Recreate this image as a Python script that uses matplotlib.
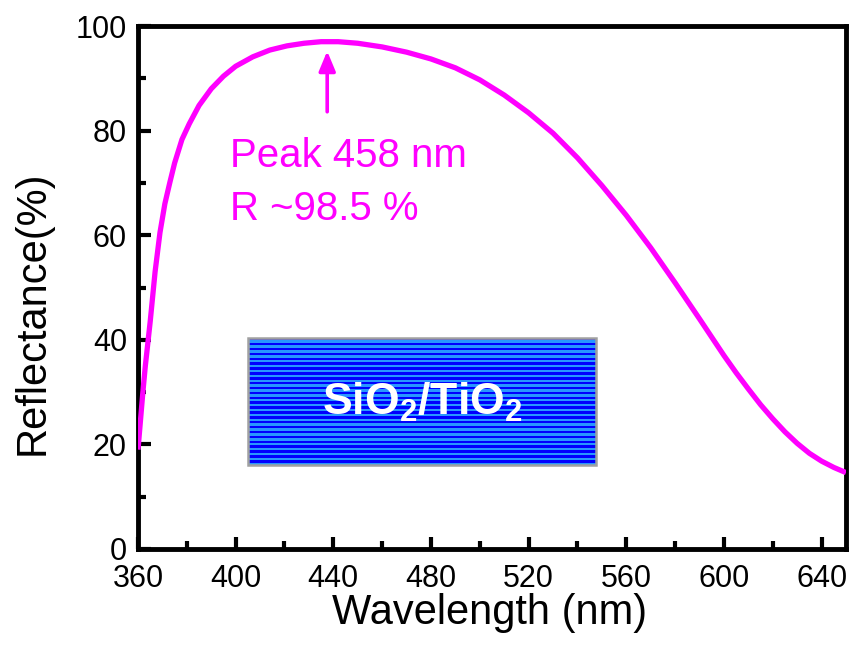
import numpy as np
import matplotlib
matplotlib.use("Agg")
import matplotlib.pyplot as plt
from matplotlib.ticker import MultipleLocator

plt.rcParams['font.family'] = ['Liberation Sans', 'DejaVu Sans']
plt.rcParams['mathtext.fontset'] = 'custom'
plt.rcParams['mathtext.rm'] = 'Liberation Sans'
plt.rcParams['mathtext.bf'] = 'Liberation Sans:bold'
plt.rcParams['mathtext.default'] = 'bf'

# ---- data ----
wavelength = [360, 361, 362, 363, 365, 367, 369, 371, 373, 375, 378, 381, 385,
              390, 395, 400, 407, 414, 421, 428, 435, 442, 450, 460, 470, 480,
              490, 500, 510, 520, 530, 540, 550, 560, 570, 580, 590, 595, 600,
              605, 610, 615, 620, 625, 630, 635, 640, 645, 650]
reflectance = [19.0, 24.5, 30.0, 35.0, 43.5, 53.0, 60.5, 66.0, 70.0, 73.8, 78.3,
               81.3, 84.8, 88.0, 90.4, 92.3, 94.1, 95.4, 96.2, 96.7, 97.0, 97.0,
               96.7, 96.0, 95.0, 93.7, 92.0, 89.7, 86.8, 83.4, 79.5, 74.8, 69.5,
               63.8, 57.6, 50.9, 44.0, 40.5, 37.0, 33.7, 30.6, 27.6, 24.9, 22.4,
               20.2, 18.3, 16.8, 15.6, 14.6]
peak_label = "Peak 458 nm"
r_label = "R ~98.5 %"
arrow_x = 437.5
arrow_y = [83.6, 95.2]
box_x = [405, 547.7]
box_y = [16.1, 40.3]
stack_label = r"SiO$_2$/TiO$_2$"
xlim = [360, 650]
ylim = [0, 100]

magenta = '#FF00FF'

fig = plt.figure(figsize=(8.5, 6.48), dpi=100)
ax = fig.add_axes([138/850, 1-549/648, (846-138)/850, (549-26)/648])

ax.plot(wavelength, reflectance, color=magenta, lw=3.8, solid_capstyle='butt',
        solid_joinstyle='round', zorder=3)

# multilayer stack box with stripes
n_periods = 26
stripes = np.zeros((n_periods * 2, 1, 3))
dark = np.array([0, 0, 255]) / 255
light = np.array([40, 150, 255]) / 255
for i in range(n_periods * 2):
    stripes[i, 0] = dark if i % 2 == 0 else light
ax.imshow(stripes, extent=[box_x[0], box_x[1], box_y[0], box_y[1]],
          aspect='auto', interpolation='nearest', origin='upper', zorder=2)
ax.add_patch(plt.Rectangle((box_x[0], box_y[0]), box_x[1]-box_x[0], box_y[1]-box_y[0],
                           fill=False, ec='#a0a0a0', lw=1.8, zorder=2.5))
ax.text((box_x[0]+box_x[1])/2, 25.6, stack_label, color='white', fontsize=32,
        fontweight='bold', ha='center', va='baseline', zorder=4)

# annotation
ax.annotate('', xy=(arrow_x, arrow_y[1]), xytext=(arrow_x, arrow_y[0]),
            arrowprops=dict(arrowstyle='-|>,head_length=0.6,head_width=0.25',
                            color=magenta, lw=2.6, shrinkA=0, shrinkB=0,
                            mutation_scale=20))
ax.text(397.7, 73.1, peak_label, color=magenta, fontsize=29, ha='left', va='baseline')
ax.text(397.7, 62.9, r_label, color=magenta, fontsize=29, ha='left', va='baseline')

ax.set_xlim(*xlim)
ax.set_ylim(*ylim)
ax.xaxis.set_major_locator(MultipleLocator(40))
ax.xaxis.set_minor_locator(MultipleLocator(20))
ax.yaxis.set_major_locator(MultipleLocator(20))
ax.yaxis.set_minor_locator(MultipleLocator(10))

for s in ax.spines.values():
    s.set_linewidth(3.5)
ax.tick_params(which='both', direction='in', top=False, right=False,
               labelsize=22, width=3.0)
ax.tick_params(axis='y', pad=8)
ax.tick_params(axis='x', pad=11)
ax.tick_params(which='major', length=9)
ax.tick_params(which='minor', length=5.5)

ax.set_xlabel('Wavelength (nm)', fontsize=30)
ax.set_ylabel('Reflectance(%)', fontsize=30)
ax.xaxis.set_label_coords(0.497, -0.084)
ax.xaxis.label.set_va('top')
ax.yaxis.set_label_coords(-0.12, 0.451)

fig.savefig('out.png', dpi=100)
